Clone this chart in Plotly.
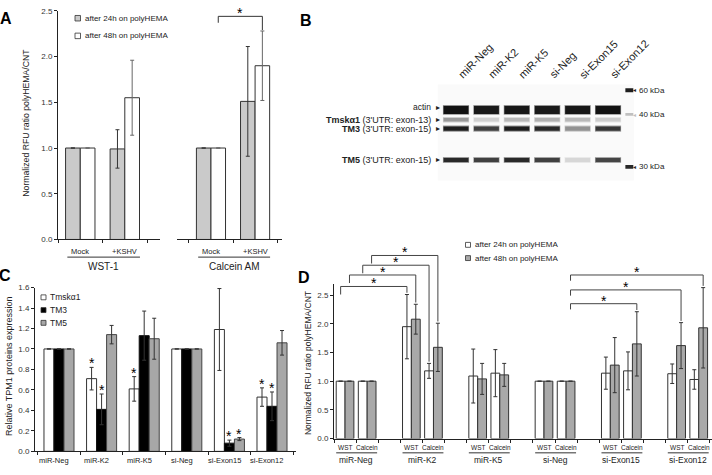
import plotly.graph_objects as go

# ---------------- DATA ----------------
# Panel A
A_conditions = ["Mock", "+KSHV"]
A_assays = ["WST-1", "Calcein AM"]
A_wst_24h = [1.0, 0.99]
A_wst_24h_err = [None, 0.21]
A_wst_48h = [1.0, 1.55]
A_wst_48h_err = [None, 0.41]
A_cal_24h = [1.0, 1.51]
A_cal_24h_err = [None, 0.60]
A_cal_48h = [1.0, 1.90]
A_cal_48h_err = [None, 0.38]
A_ticks = [0.0, 0.5, 1.0, 1.5, 2.0, 2.5]

# Panel B (western blot, band darkness 0..1 per lane)
B_lanes = ["miR-Neg", "miR-K2", "miR-K5", "si-Neg", "si-Exon15", "si-Exon12"]
B_bands = ["actin", "Tmskα1", "TM3", "TM5"]
B_band_migration = [78, 88, 97, 129]          # arbitrary migration units
B_band_labels = ["actin", "<b>Tmskα1</b> (3'UTR: exon-13)",
                 "<b>TM3</b> (3'UTR: exon-15)", "<b>TM5</b> (3'UTR: exon-15)"]
B_actin = [1.00, 0.97, 0.98, 0.97, 0.98, 1.00]
B_tmsk = [0.42, 0.18, 0.28, 0.32, 0.28, 0.20]
B_tm3 = [0.95, 0.80, 0.95, 0.90, 0.45, 0.85]
B_tm5 = [0.90, 0.80, 0.90, 0.80, 0.15, 0.78]
B_marker_kda = ["60 kDa", "40 kDa", "30 kDa"]
B_marker_migration = [58, 83, 136]
B_marker_darkness = [0.95, 0.25, 0.9]

# Panel C
C_categories = ["miR-Neg", "miR-K2", "miR-K5", "si-Neg", "si-Exon15", "si-Exon12"]
C_series = ["Tmskα1", "TM3", "TM5"]
C_tmsk = [1.0, 0.71, 0.61, 1.0, 1.19, 0.53]
C_tmsk_err = [None, 0.11, 0.12, None, 0.40, 0.09]
C_tm3 = [1.0, 0.41, 1.13, 1.0, 0.08, 0.44]
C_tm3_err = [None, 0.15, 0.24, None, 0.03, 0.14]
C_tm5 = [1.0, 1.14, 1.10, 1.0, 0.12, 1.06]
C_tm5_err = [None, 0.09, 0.20, None, 0.015, 0.12]
C_tmsk_sig = [0, 1, 1, 0, 0, 1]
C_tm3_sig = [0, 1, 0, 0, 1, 1]
C_tm5_sig = [0, 0, 0, 0, 1, 0]
C_ticks = [0.0, 0.2, 0.4, 0.6, 0.8, 1.0, 1.2, 1.4, 1.6]

# Panel D
D_groups = ["miR-Neg", "miR-K2", "miR-K5", "si-Neg", "si-Exon15", "si-Exon12"]
D_assays = ["WST", "Calcein"]
D_wst_24h = [1.0, 1.95, 1.09, 1.0, 1.14, 1.13]
D_wst_24h_err = [None, 0.56, 0.47, None, 0.28, 0.17]
D_wst_48h = [1.0, 2.08, 1.04, 1.0, 1.28, 1.62]
D_wst_48h_err = [None, 0.26, 0.27, None, 0.48, 0.40]
D_cal_24h = [1.0, 1.18, 1.14, 1.0, 1.18, 1.03]
D_cal_24h_err = [None, 0.13, 0.41, None, 0.33, 0.17]
D_cal_48h = [1.0, 1.59, 1.11, 1.0, 1.65, 1.93]
D_cal_48h_err = [None, 0.42, 0.20, None, 0.56, 0.70]
D_ticks = [0.0, 0.5, 1.0, 1.5, 2.0, 2.5]
# significance comparisons: (group, assay, time) -> (group, assay, time)
D_sig = [((0, 0, 0), (1, 0, 0)), ((0, 0, 1), (1, 0, 1)), ((0, 1, 0), (1, 1, 0)), ((0, 1, 1), (1, 1, 1)),
         ((3, 1, 1), (4, 1, 1)), ((3, 1, 1), (5, 0, 1)), ((3, 1, 1), (5, 1, 1))]

# ---------------- STYLE / LAYOUT HELPERS ----------------
W, H = 712, 475
FONT = "Arial, 'Liberation Sans', 'DejaVu Sans', sans-serif"
TXT = "#222"


def fx(px):
    return px / W


def fy(py):
    return 1 - py / H


def axis(**kw):
    d = dict(showgrid=False, zeroline=False, showline=True, linecolor="#222", linewidth=1,
             ticks="outside", ticklen=3, tickwidth=1, tickcolor="#222",
             tickfont=dict(size=8, color="#333", family=FONT), fixedrange=True)
    d.update(kw)
    return d


fig = go.Figure()
ann = []
shapes = []


def text(x, y, s, size=8, xref="paper", yref="paper", color=TXT, **kw):
    a = dict(x=x, y=y, xref=xref, yref=yref, text=s, showarrow=False,
             xanchor="center", yanchor="middle",
             font=dict(size=size, color=color, family=FONT))
    a.update(kw)
    ann.append(a)


# ---------------- PANEL A ----------------
A_dom_y = [fy(240), fy(7)]
A_ymax = 2.5
bwA = 0.33
GRAY_A = "#cacaca"
for xa, v24, e24, v48, e48 in [("x", A_wst_24h, A_wst_24h_err, A_wst_48h, A_wst_48h_err),
                               ("x2", A_cal_24h, A_cal_24h_err, A_cal_48h, A_cal_48h_err)]:
    idx = list(range(len(A_conditions)))
    fig.add_trace(go.Bar(x=[i - bwA / 2 for i in idx], y=v24, width=bwA, xaxis=xa, yaxis="y",
                         marker=dict(color=GRAY_A, line=dict(color="#333", width=1)),
                         error_y=dict(type="data", array=e24, color="#333", thickness=1, width=2),
                         showlegend=False))
    fig.add_trace(go.Bar(x=[i + bwA / 2 for i in idx], y=v48, width=bwA, xaxis=xa, yaxis="y",
                         marker=dict(color="white", line=dict(color="#333", width=1)),
                         error_y=dict(type="data", array=e48, color="#666", thickness=1, width=2),
                         showlegend=False))

# condition labels, underline and assay titles
for xa, title in [("x", A_assays[0]), ("x2", A_assays[1])]:
    for i, c in enumerate(A_conditions):
        text(i, fy(252), c, size=7.5, xref=xa)
    shapes.append(dict(type="line", xref=xa, yref="paper", x0=-0.29, x1=1.34, y0=fy(258), y1=fy(258),
                       line=dict(color="#333", width=1)))
    text(0.53, fy(268), title, size=10, xref=xa)

# significance bracket on Calcein +KSHV 48h vs Mock 48h
top48 = A_cal_48h[1] + A_cal_48h_err[1]
lvl = 2.44
shapes.append(dict(type="path", xref="x2", yref="y",
                   path=f"M {0 + bwA/2},{lvl - 0.07} L {0 + bwA/2},{lvl} L {1 + bwA/2},{lvl} L {1 + bwA/2},{top48 + 0.01}",
                   line=dict(color="#333", width=1)))
text(0.5 + bwA / 2, lvl, "*", size=14, xref="x2", yref="y", yanchor="bottom", yshift=-7, color="black")

# legend A
for k, (col, lab) in enumerate([(GRAY_A, "after 24h on polyHEMA"), ("white", "after 48h on polyHEMA")]):
    cy = 14.5 + 18 * k
    shapes.append(dict(type="rect", xref="paper", yref="paper", x0=fx(75), x1=fx(80.5),
                       y0=fy(cy + 2.8), y1=fy(cy - 2.8), fillcolor=col, line=dict(color="#333", width=0.8)))
    text(fx(83), fy(cy), lab, size=8, xanchor="left")

text(fx(26), fy(121), "Normalized RFU ratio polyHEMA/CNT", size=8.7, textangle=-90)
text(fx(6), fy(15), "<b>A</b>", size=16, color="black")

# ---------------- PANEL B (blot) ----------------
lane_idx = list(range(len(B_lanes)))
blot_int = [B_actin, B_tmsk, B_tm3, B_tm5]
band_thick = [8, 3.5, 4.5, 4]


def gray(d):
    g = int(round(250 - 232 * d))
    return f"rgb({g},{g},{g})"


shapes.append(dict(type="rect", xref="x3", yref="y3", x0=-0.6, x1=5.85, y0=52, y1=150,
                   fillcolor="#fafafa", line=dict(width=0), layer="below"))
for b, ints in enumerate(blot_int):
    m = B_band_migration[b]
    t = band_thick[b]
    # soft halo
    fig.add_trace(go.Bar(x=lane_idx, y=[t + 2] * 6, base=[m - (t + 2) / 2] * 6, width=0.86,
                         marker=dict(color=[gray(0.45 * d) for d in ints], line=dict(width=0)),
                         xaxis="x3", yaxis="y3", showlegend=False, hoverinfo="skip"))
    fig.add_trace(go.Bar(x=lane_idx, y=[t] * 6, base=[m - t / 2] * 6, width=0.82,
                         marker=dict(color=[gray(d) for d in ints], line=dict(width=0)),
                         xaxis="x3", yaxis="y3", showlegend=False))
# marker ladder
mk_lane = 5.7
fig.add_trace(go.Bar(x=[mk_lane] * 3, y=[4, 3, 4], base=[mm - 2 for mm in B_marker_migration], width=0.26,
                     marker=dict(color=[gray(d) for d in B_marker_darkness], line=dict(width=0)),
                     xaxis="x3", yaxis="y3", showlegend=False))
for k, lab in enumerate(B_marker_kda):
    text(fx(637), B_marker_migration[k], lab, size=8, yref="y3", xanchor="left")
    text(5.86, B_marker_migration[k], "◂", size=6, xref="x3", yref="y3", color=gray(B_marker_darkness[k]))

for i, lab in enumerate(B_lanes):
    text(i - 0.1, fy(81), lab, size=11, xref="x3", textangle=-45, xanchor="left", yanchor="bottom")
for b, lab in enumerate(B_band_labels):
    dy = -3 if b == 0 else 0
    text(fx(433), B_band_migration[b] + dy, lab, size=9 if b else 8.5, yref="y3", xanchor="right")
    text(fx(438), B_band_migration[b] + dy, "▸", size=8, yref="y3")
text(fx(306), fy(17), "<b>B</b>", size=16, color="black")

# ---------------- PANEL C ----------------
bwC = 0.235
C_label_shift = -0.12
C_vals = [C_tmsk, C_tm3, C_tm5]
C_errs = [C_tmsk_err, C_tm3_err, C_tm5_err]
C_sigs = [C_tmsk_sig, C_tm3_sig, C_tm5_sig]
C_fill = ["white", "black", "#a7a7a7"]
C_line = ["#333", "#111", "#444"]
cidx = list(range(len(C_categories)))
for k in range(3):
    fig.add_trace(go.Bar(x=[i + (k - 1) * bwC for i in cidx], y=C_vals[k], width=bwC,
                         xaxis="x4", yaxis="y4",
                         marker=dict(color=C_fill[k], line=dict(color=C_line[k], width=1)),
                         error_y=dict(type="data", array=C_errs[k], color="#333", thickness=1, width=2),
                         showlegend=False))
    for i in cidx:
        if C_sigs[k][i]:
            top = C_vals[k][i] + (C_errs[k][i] or 0)
            text(i + (k - 1) * bwC, top, "*", size=14, xref="x4", yref="y4", yanchor="bottom", yshift=-6,
                 color="black")
for i, c in enumerate(C_categories):
    text(i + C_label_shift, fy(465), c, size=7.5, xref="x4")
for k, lab in enumerate(C_series):
    cy = 299 + 13 * k
    shapes.append(dict(type="rect", xref="paper", yref="paper", x0=fx(41), x1=fx(46),
                       y0=fy(cy + 2.5), y1=fy(cy - 2.5), fillcolor=C_fill[k], line=dict(color="#333", width=0.8)))
    text(fx(47.5), fy(cy), lab, size=8.5, xanchor="left")
text(fx(9), fy(370), "Relative TPM1 proteins expression", size=9, textangle=-90)
text(fx(5), fy(277), "<b>C</b>", size=16, color="black")

# ---------------- PANEL D ----------------
D_y0, D_y1 = 443, 285
D_ymax = 2.7


def yD(v):
    return fy(D_y0) + v / D_ymax * (fy(D_y1) - fy(D_y0))


D_vals = {(0, 0): D_wst_24h, (0, 1): D_wst_48h, (1, 0): D_cal_24h, (1, 1): D_cal_48h}
D_errs = {(0, 0): D_wst_24h_err, (0, 1): D_wst_48h_err, (1, 0): D_cal_24h_err, (1, 1): D_cal_48h_err}
bwD = 0.4
GRAY_D = "#a9a9a9"


def xD(g, a, t):
    return 3 * g + a + 0.3 + 0.4 * t


for (a, t), vals in D_vals.items():
    fig.add_trace(go.Bar(x=[xD(g, a, t) for g in range(len(D_groups))], y=vals, width=bwD,
                         xaxis="x5", yaxis="y5",
                         marker=dict(color=GRAY_D if t else "white", line=dict(color="#333", width=1)),
                         error_y=dict(type="data", array=D_errs[(a, t)], color="#333", thickness=1, width=2),
                         showlegend=False))

for g, name in enumerate(D_groups):
    for a, lab in enumerate(D_assays):
        text(3 * g + a + 0.5, fy(452), lab, size=6.5, xref="x5")
    shapes.append(dict(type="line", xref="x5", yref="paper", x0=3 * g + 0.1, x1=3 * g + 1.95,
                       y0=fy(457.5), y1=fy(457.5), line=dict(color="#333", width=1)))
    text(3 * g + 1, fy(464.5), name, size=8.5, xref="x5")

# brackets
levels = [2.65, 2.85, 3.02, 3.19, 2.35, 2.59, 2.85]
for (src, dst), lv in zip(D_sig, levels):
    x0 = xD(*src)
    x1 = xD(*dst)
    tgt_top = D_vals[(dst[1], dst[2])][dst[0]] + (D_errs[(dst[1], dst[2])][dst[0]] or 0)
    drop = 0.14 if src[0] == 0 else 0.1
    shapes.append(dict(type="path", xref="x5", yref="paper",
                       path=f"M {x0},{yD(lv - drop)} L {x0},{yD(lv)} L {x1},{yD(lv)} L {x1},{yD(tgt_top + 0.03)}",
                       line=dict(color="#444", width=1)))
    text((x0 + x1) / 2, yD(lv), "*", size=14, xref="x5", yanchor="bottom", yshift=-7, color="black")

for k, (col, lab) in enumerate([("white", "after 24h on polyHEMA"), (GRAY_D, "after 48h on polyHEMA")]):
    cy = 245.5 + 13.5 * k
    shapes.append(dict(type="rect", xref="paper", yref="paper", x0=fx(465.5), x1=fx(470.5),
                       y0=fy(cy + 2.5), y1=fy(cy - 2.5), fillcolor=col, line=dict(color="#333", width=0.8)))
    text(fx(472.5), fy(cy), lab, size=8, xanchor="left")
text(fx(308), fy(366), "Normalized RFU ratio polyHEMA/CNT", size=8.5, textangle=-90)
text(fx(304), fy(279), "<b>D</b>", size=16, color="black")

# ---------------- AXES ----------------
fig.update_layout(
    width=W, height=H, margin=dict(l=0, r=0, t=0, b=0),
    paper_bgcolor="white", plot_bgcolor="rgba(0,0,0,0)",
    barmode="overlay", showlegend=False,
    font=dict(family=FONT, size=8, color=TXT),
    xaxis=axis(domain=[fx(58), fx(160)], range=[-0.5, 1.79], anchor="y",
               tickvals=[-0.5, 0.5, 1.5], showticklabels=False),
    xaxis2=axis(domain=[fx(177), fx(282)], range=[-0.77, 1.61], anchor="y",
                tickvals=[-0.5, 0.5, 1.5], showticklabels=False),
    yaxis=axis(domain=A_dom_y, range=[0, A_ymax], anchor="x",
               tickvals=A_ticks, ticktext=[f"{v:.1f}" for v in A_ticks]),
    xaxis3=dict(domain=[fx(436), fx(650)], range=[-0.658, 6.38], anchor="y3", visible=False, fixedrange=True),
    yaxis3=dict(domain=[fy(185), fy(30)], range=[155, 0], anchor="x3", visible=False, fixedrange=True),
    xaxis4=axis(domain=[fx(35), fx(296)], range=[-0.563, 5.563], anchor="y4",
                tickvals=[i - 0.5 for i in range(7)], showticklabels=False),
    yaxis4=axis(domain=[fy(456), fy(289)], range=[0, 1.6], anchor="x4",
                tickvals=C_ticks, ticktext=[f"{v:.1f}" for v in C_ticks]),
    xaxis5=axis(domain=[fx(334), fx(712)], range=[0, 17.1], anchor="y5",
                tickvals=list(range(18)), showticklabels=False),
    yaxis5=axis(domain=[fy(D_y0), fy(D_y1)], range=[0, D_ymax], anchor="x5",
                tickvals=D_ticks, ticktext=[f"{v:.1f}" for v in D_ticks]),
    annotations=ann, shapes=shapes,
)

fig.write_html("out.html", config={"displayModeBar": False},
               post_script="document.body.style.margin='0px';")
